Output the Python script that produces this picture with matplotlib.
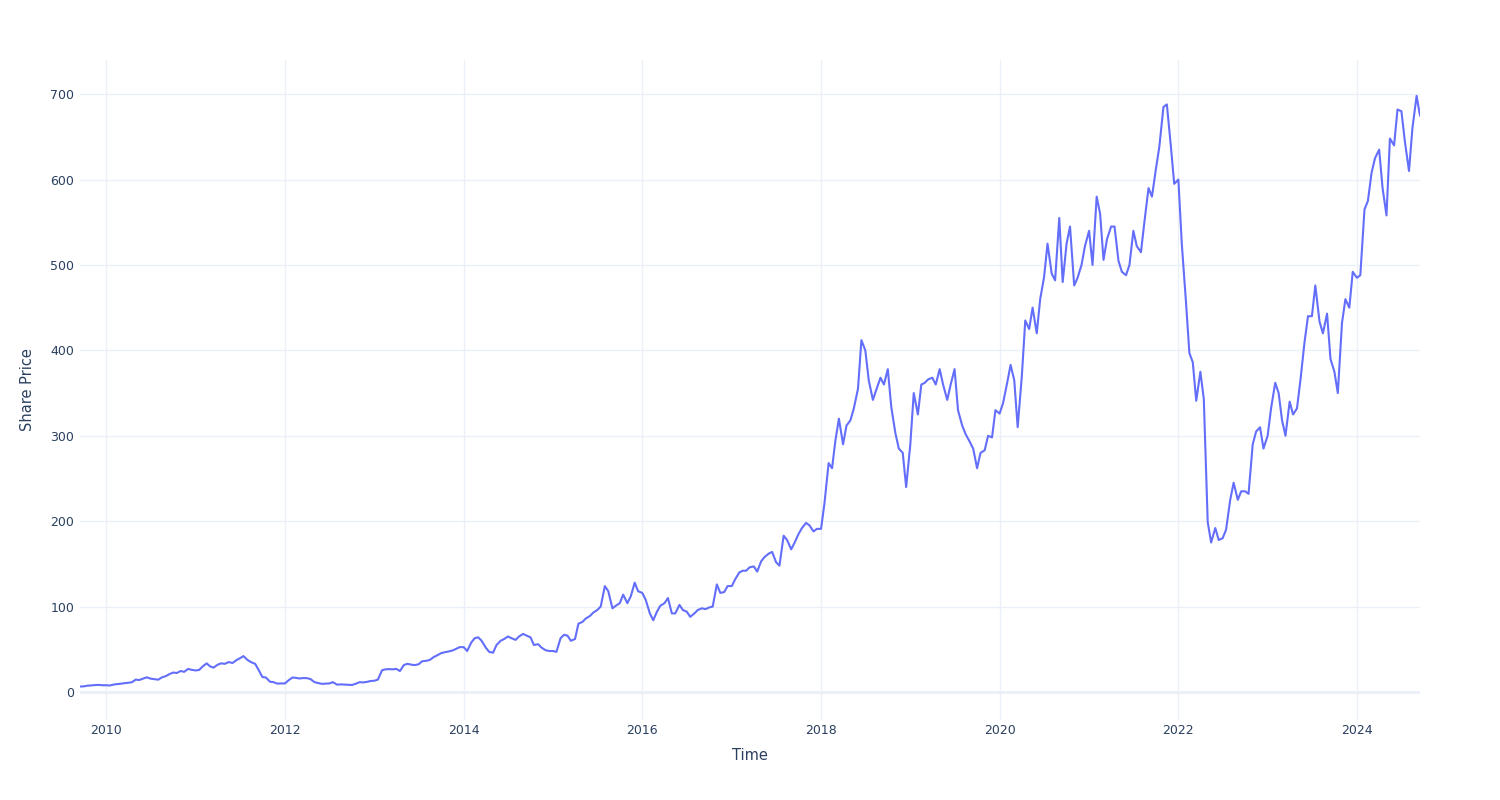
import numpy as np
import pandas as pd
from matplotlib import pyplot as plt
import matplotlib.dates as mdates

# semi-monthly closing prices (1st and 15th of each month)
p2009 = [6.4, 6.6, 7.4, 7.7, 8.1, 8.3, 7.9]
p2010 = [7.9, 7.6, 8.8, 9.2, 9.7, 10.3, 10.8, 11.4, 14.5, 14.0, 15.8, 17.2,
         15.6, 15.0, 14.4, 17.0, 18.6, 20.8, 22.8, 22.2, 24.6, 23.6, 27.0, 26.0]
p2011 = [25.2, 25.8, 30.5, 33.5, 30.0, 28.5, 32.0, 33.5, 33.0, 35.0, 34.0, 37.0,
         39.5, 42.0, 37.5, 35.0, 33.0, 26.0, 17.5, 17.0, 12.0, 11.5, 9.8, 10.0]
p2012 = [10.0, 13.5, 17.0, 16.5, 15.8, 16.3, 16.2, 15.0, 11.5, 10.5, 9.5, 9.8,
         10.0, 11.5, 8.6, 8.9, 8.6, 8.3, 8.2, 9.5, 11.5, 11.2, 11.8, 12.8]
p2013 = [13.2, 14.5, 25.5, 26.5, 26.8, 26.5, 27.0, 24.5, 31.5, 33.0, 32.0, 31.5,
         32.5, 36.0, 36.5, 37.5, 41.0, 43.0, 45.5, 46.5, 47.5, 48.5, 50.5, 52.5]
p2014 = [52.5, 48.0, 58.0, 63.0, 64.0, 60.0, 52.0, 47.0, 46.0, 55.0, 60.0, 62.0,
         65.0, 63.0, 61.0, 65.0, 68.0, 66.0, 64.0, 55.0, 56.0, 52.0, 49.0, 48.0]
p2015 = [48, 47, 63, 67, 66, 60, 62, 80, 82, 86, 89, 93,
         96, 100, 124, 118, 98, 101, 104, 114, 104, 112, 128, 118]
p2016 = [116, 108, 92, 84, 94, 101, 104, 110, 92, 92, 102, 96,
         94, 88, 92, 96, 98, 97, 99, 100, 126, 116, 117, 124]
p2017 = [124, 132, 140, 142, 142, 146, 147, 141, 153, 158, 162, 164,
         152, 148, 183, 178, 167, 175, 185, 192, 198, 195, 188, 191]
p2018 = [191, 221, 268, 262, 295, 320, 290, 312, 318, 332, 355, 412,
         400, 365, 342, 354, 368, 360, 378, 334, 303, 285, 280, 240]
p2019 = [290, 350, 325, 360, 362, 366, 368, 360, 378, 360, 342, 360,
         378, 330, 312, 302, 293, 285, 262, 280, 283, 300, 298, 330]
p2020 = [326, 338, 362, 383, 365, 310, 370, 435, 425, 450, 420, 460,
         486, 525, 490, 482, 555, 480, 525, 545, 476, 485, 500, 522]
p2021 = [540, 500, 580, 560, 506, 530, 545, 545, 505, 492, 488, 500,
         540, 522, 515, 550, 590, 580, 612, 638, 685, 688, 640, 595]
p2022 = [600, 525, 457, 397, 386, 341, 375, 343, 199, 175, 192, 178,
         180, 190, 225, 245, 225, 235, 235, 232, 290, 305, 310, 285]
p2023 = [300, 332, 362, 350, 318, 300, 340, 325, 332, 365, 410, 440,
         440, 476, 434, 420, 443, 390, 375, 350, 432, 460, 450, 492]
p2024 = [485, 488, 565, 575, 608, 625, 635, 590, 558, 648, 640, 682,
         680, 645, 610, 660, 698, 675]

prices = (p2009 + p2010 + p2011 + p2012 + p2013 + p2014 + p2015 + p2016 +
          p2017 + p2018 + p2019 + p2020 + p2021 + p2022 + p2023 + p2024)
dates = pd.date_range('2009-09-15', '2024-09-15', freq='SMS')
assert len(dates) == len(prices), (len(dates), len(prices))

year_ticks = [2010, 2012, 2014, 2016, 2018, 2020, 2022, 2024]
price_ticks = [0, 100, 200, 300, 400, 500, 600, 700]

GRID = '#EBF0F8'
TEXT = '#2a3f5f'

fig = plt.figure(figsize=(15, 8), dpi=100)
ax = fig.add_axes([80 / 1500, 80 / 800, 1340 / 1500, 660 / 800])

ax.plot(dates, prices, color='#636EFA', lw=1.5, zorder=3)

ax.set_xlim(dates[0], dates[-1])
ax.set_ylim(-32.8, 740)

ax.set_xticks([pd.Timestamp('{}-01-01'.format(y)) for y in year_ticks])
ax.set_xticklabels([str(y) for y in year_ticks])
ax.set_yticks(price_ticks)

ax.grid(True, color=GRID, lw=1, zorder=0)
ax.axhline(0, color=GRID, lw=2, zorder=1)
for s in ax.spines.values():
    s.set_visible(False)
ax.tick_params(length=0, labelsize=9, labelcolor=TEXT)
ax.tick_params(axis='x', pad=3)
ax.tick_params(axis='y', pad=4)

ax.set_xlabel('Time', fontsize=10.5, color=TEXT, labelpad=8)
ax.set_ylabel('Share Price', fontsize=10.5, color=TEXT, labelpad=11)

plt.savefig('out.png', dpi=100, facecolor='white')
